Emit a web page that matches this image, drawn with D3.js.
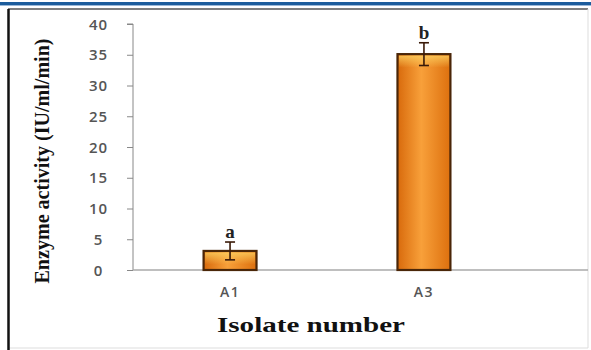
<!DOCTYPE html>
<html><head><meta charset="utf-8">
<script src="https://cdn.jsdelivr.net/npm/d3@7"></script>
<style>body{margin:0;background:#fff}svg{display:block}</style>
</head><body>
<svg id="c" width="591" height="350"></svg>
<script>
const categories = ["A1", "A3"];
const values = [3.1, 35.1];
const errors = [1.45, 1.85];
const letters = ["a", "b"];
const yTicks = [0, 5, 10, 15, 20, 25, 30, 35, 40];
const xTitle = "Isolate number";
const yTitle = "Enzyme activity (IU/ml/min)";

const svg = d3.select("#c");
const defs = svg.append("defs");
const g = defs.append("linearGradient").attr("id","barg").attr("x1","0").attr("x2","1").attr("y1","0").attr("y2","0");
g.append("stop").attr("offset","0%").attr("stop-color","#d86a0c");
g.append("stop").attr("offset","45%").attr("stop-color","#f8a03a");
g.append("stop").attr("offset","100%").attr("stop-color","#dd700e");
const gv = defs.append("linearGradient").attr("id","bartop").attr("x1","0").attr("x2","0").attr("y1","0").attr("y2","1");
gv.append("stop").attr("offset","0%").attr("stop-color","#fcd060").attr("stop-opacity",0.8);
gv.append("stop").attr("offset","100%").attr("stop-color","#fcd060").attr("stop-opacity",0);

// header band and frame
svg.append("rect").attr("x",0).attr("y",2).attr("width",591).attr("height",3).attr("fill","#1c5c9c");
svg.append("line").attr("x1",0).attr("x2",591).attr("y1",5.5).attr("y2",5.5).attr("stroke","#9ab8d8").attr("stroke-width",1);
svg.append("line").attr("x1",8).attr("x2",588).attr("y1",9).attr("y2",9).attr("stroke","#555").attr("stroke-width",1.5);
svg.append("line").attr("x1",588).attr("x2",588).attr("y1",9).attr("y2",348).attr("stroke","#ddd").attr("stroke-width",1);
svg.append("line").attr("x1",8).attr("x2",588).attr("y1",348).attr("y2",348).attr("stroke","#ddd").attr("stroke-width",1);
svg.append("line").attr("x1",8.5).attr("x2",8.5).attr("y1",9).attr("y2",350).attr("stroke","#111").attr("stroke-width",2.5);

const x0 = 133, yBase = 270, yTop = 24;
const x = d3.scaleBand().domain(categories).range([x0, x0 + 388]).paddingInner(0.727).paddingOuter(0.364);
const y = d3.scaleLinear().domain([0, 40]).range([yBase, yTop]);

// y axis
const ya = svg.append("g").attr("transform",`translate(${x0},0)`)
  .call(d3.axisLeft(y).tickValues(yTicks).tickSize(6).tickPadding(27));
ya.select(".domain").attr("stroke","#888").attr("d",`M-6,${yTop}H0V${yBase}`);
ya.selectAll(".tick line").attr("stroke","#888");
ya.selectAll(".tick text").attr("fill","#555").attr("font-family","Open Sans, sans-serif").attr("font-size",15).attr("font-weight","600")
  .attr("text-anchor","middle").attr("dx","-1.5").attr("letter-spacing",1).attr("dy","0.34em");

// x axis
const xa = svg.append("g").attr("transform",`translate(0,${yBase})`)
  .call(d3.axisBottom(x).tickSize(0).tickPadding(17));
xa.select(".domain").attr("stroke","#aaa").attr("stroke-width",1.5).attr("d",`M${x0},0H588`);
xa.selectAll(".tick text").attr("fill","#555").attr("font-family","Open Sans, sans-serif").attr("font-size",14).attr("font-weight","600").attr("letter-spacing",1.5);

// bars
const bars = svg.append("g");
categories.forEach((c,i)=>{
  const bx = x(c), bw = x.bandwidth(), by = y(values[i]);
  bars.append("rect").attr("x",bx).attr("y",by).attr("width",bw).attr("height",yBase-by)
    .attr("fill","url(#barg)").attr("stroke","#4a2608").attr("stroke-width",2.2);
  bars.append("rect").attr("x",bx+1.5).attr("y",by+1.5).attr("width",bw-3).attr("height",Math.min(12,yBase-by-3))
    .attr("fill","url(#bartop)");
  const cx = bx + bw/2;
  const t = y(values[i]+errors[i]), b = y(values[i]-errors[i]);
  bars.append("line").attr("x1",cx).attr("x2",cx).attr("y1",t).attr("y2",b).attr("stroke","#3a1a08").attr("stroke-width",1.6);
  bars.append("line").attr("x1",cx-5).attr("x2",cx+5).attr("y1",t).attr("y2",t).attr("stroke","#3a1a08").attr("stroke-width",1.6);
  bars.append("line").attr("x1",cx-5).attr("x2",cx+5).attr("y1",b).attr("y2",b).attr("stroke","#3a1a08").attr("stroke-width",1.6);
  bars.append("text").attr("x",cx).attr("y",t-4).attr("text-anchor","middle")
    .attr("font-family","Liberation Serif, serif").attr("font-weight","bold").attr("font-size",19).attr("fill","#222").text(letters[i]);
});

// titles
svg.append("text").attr("x",311).attr("y",332).attr("text-anchor","middle")
  .attr("font-family","Liberation Serif, serif").attr("font-weight","bold").attr("font-size",22).attr("fill","#111")
  .attr("textLength",188).attr("lengthAdjust","spacingAndGlyphs").text(xTitle);
svg.append("text").attr("transform","translate(49,161) rotate(-90)").attr("text-anchor","middle")
  .attr("font-family","Liberation Serif, serif").attr("font-weight","bold").attr("font-size",20).attr("fill","#111")
  .attr("textLength",245).attr("lengthAdjust","spacingAndGlyphs").text(yTitle);
</script>
</body></html>
